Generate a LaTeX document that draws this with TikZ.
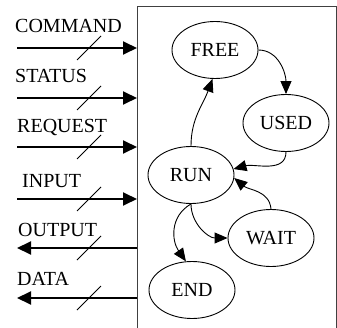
\documentclass[tikz,border=0pt]{standalone}
\usepackage{fontspec}
\setmainfont{Liberation Serif}
\usetikzlibrary{arrows.meta,shapes.geometric}
\begin{document}
\begin{tikzpicture}[x=1pt,y=1pt,
  state/.style={draw, ellipse, line width=0.9pt, minimum width=86pt, minimum height=57pt, inner sep=0pt, font=\fontsize{20}{23}\selectfont},
  sig/.style={line width=1.9pt, -{Triangle[length=14pt,width=13pt]}},
  lbl/.style={anchor=base west, inner sep=0pt, font=\fontsize{20}{23}\selectfont},
  tick/.style={line width=0.9pt},
  edge/.style={line width=0.9pt, -{Triangle[length=13pt,width=11pt]}},
  frame/.style={line width=1pt, black!75}
]
\useasboundingbox (0,0) rectangle (337,327);
% frame (open at the bottom)
\coordinate (fbl) at (137,-2);
\coordinate (ftl) at (137,320);
\coordinate (ftr) at (336,320);
\coordinate (fbr) at (336,-2);
\draw[frame] (fbl) -- (ftl) -- (ftr) -- (fbr);

% signal labels
\node[lbl] (lcmd) at (15,294) {COMMAND};
\node[lbl] (lsta) at (15,244) {STATUS};
\node[lbl] (lreq) at (17,194) {REQUEST};
\node[lbl] (linp) at (22,140) {INPUT};
\node[lbl] (lout) at (18,91) {OUTPUT};
\node[lbl] (ldat) at (17,42) {DATA};

% signal ends
\coordinate (cmdA) at (17,279);  \coordinate (cmdB) at (137,279);
\coordinate (staA) at (17,229);  \coordinate (staB) at (137,229);
\coordinate (reqA) at (17,180);  \coordinate (reqB) at (137,180);
\coordinate (inpA) at (17,128);  \coordinate (inpB) at (137,128);
\coordinate (outA) at (17,79);   \coordinate (outB) at (137,79);
\coordinate (datA) at (17,29);   \coordinate (datB) at (137,29);

\draw[sig] (cmdA) -- (cmdB);
\draw[sig] (staA) -- (staB);
\draw[sig] (reqA) -- (reqB);
\draw[sig] (inpA) -- (inpB);
\draw[sig] (outB) -- (outA);
\draw[sig] (datB) -- (datA);

% bus ticks
\foreach \yy in {279,229,180,128,79,29}
  \draw[tick] (77,\yy-12) -- (101,\yy+12);

% states
\node[state] (free) at (215,277) {FREE};
\node[state] (used) at (286,204) {USED};
\node[state] (run)  at (191,152) {RUN};
\node[state] (wait) at (271,89)  {WAIT};
\node[state] (end)  at (192,37)  {END};

% transitions
\draw[edge] (free.east) to[out=0,in=90] (used.north);
\draw[edge] (run.north) to[out=90,in=-110] (free.-95);
\draw[edge] (used.south) to[out=-90,in=15] (run.8);
\draw[edge] (wait.north) to[out=95,in=-40] (run.-4);
\draw[edge] (run.south) to[out=-90,in=180] (wait.west);
\draw[edge] (run.south) to[out=-150,in=125,looseness=1.1] (end.102);
\end{tikzpicture}
\end{document}
